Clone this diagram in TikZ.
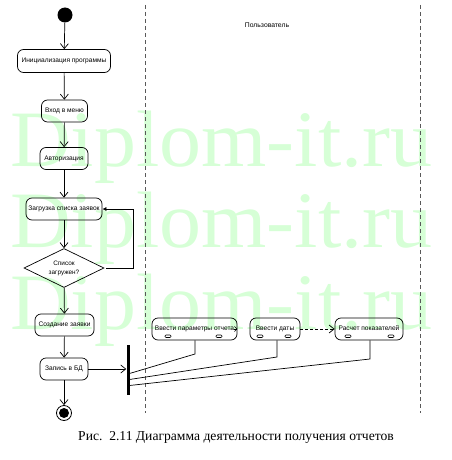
\documentclass[tikz,border=0pt]{standalone}
\usepackage{fontspec}
\setmainfont{Liberation Serif}
\newfontfamily\uifont{Liberation Sans}
\usetikzlibrary{arrows.meta,shapes.geometric,calc}
\definecolor{wmgreen}{RGB}{214,255,214}
\tikzset{
  act/.style={draw, rounded corners=6pt, line width=0.7pt, inner sep=0pt, font=\uifont\fontsize{6.6}{7}\selectfont, align=center},
  flow/.style={line width=0.7pt, -{Straight Barb[length=5pt,width=8pt,line width=0.7pt]}},
  plain/.style={line width=0.7pt},
  lane/.style={dashed, line width=0.6pt, dash pattern=on 4pt off 3pt, gray!70!black},
  pinbox/.style={draw, line width=0.6pt, rounded corners=1pt},
  wm/.style={anchor=base west, inner sep=0pt, text=wmgreen, font=\fontsize{80}{80}\selectfont, xscale=1.05}
}
\begin{document}
\begin{tikzpicture}[x=1pt,y=-1pt]
\useasboundingbox (0,0) rectangle (451,460);
% watermark
\node[wm] (wm1) at (10,166) {Diplom-it.ru};
\node[wm] (wm2) at (10,247) {Diplom-it.ru};
\node[wm] (wm3) at (10,329) {Diplom-it.ru};
% lanes
\draw[lane] (145,5) -- (145,413);
\draw[lane] (420,5) -- (420,413);
\node[font=\uifont\fontsize{6.8}{7}\selectfont] (lanetitle) at (267,25) {Пользователь};
% left column
\node[circle, fill, minimum size=15pt, inner sep=0pt] (start) at (65,15) {};
\node[act, minimum width=93pt, minimum height=23pt] (init) at (64,61) {Инициализация программы};
\node[act, minimum width=46pt, minimum height=22pt] (menu) at (64.5,111) {Вход в меню};
\node[act, minimum width=48pt, minimum height=22pt] (auth) at (64,158.5) {Авторизация};
\node[act, minimum width=76pt, minimum height=22pt] (load) at (64,209) {Загрузка списка заявок};
\node[draw, diamond, aspect=2.05, minimum width=80pt, minimum height=39pt, inner sep=0pt, line width=0.7pt, font=\uifont\fontsize{6.4}{9}\selectfont, align=center] (dec) at (64,268) {Список\\загружен?};
\node[act, minimum width=59pt, minimum height=22pt] (create) at (64.5,325) {Создание заявки};
\node[act, minimum width=48pt, minimum height=22pt] (write) at (64,369) {Запись в БД};
\node[circle, draw, line width=0.8pt, minimum size=15pt, inner sep=0pt] (end) at (64,413) {};
\node[circle, fill, minimum size=10pt, inner sep=0pt] (endin) at (64,413) {};
% fork bar
\node[fill, minimum width=3pt, minimum height=50pt, inner sep=0pt] (bar) at (128,370) {};
% right lane
\node[act, minimum width=85pt, minimum height=22pt] (n1) at (194.5,329) {\raisebox{1.5pt}{Ввести параметры отчета}};
\node[act, minimum width=50pt, minimum height=22pt] (n2) at (275,329) {\raisebox{1.5pt}{Ввести даты}};
\node[act, minimum width=68pt, minimum height=22pt] (n3) at (369,329) {\raisebox{1.5pt}{Расчет показателей}};
\foreach \px in {168,219,260,288,348,391}{
  \draw[pinbox] (\px-3,335) rectangle (\px+3,337.5);
}
% connectors
\draw[flow] (start) -- (init);
\draw[flow] (init) -- (menu);
\draw[flow] (menu) -- (auth);
\draw[flow] (auth) -- (load);
\draw[flow] (load) -- (dec);
\draw[flow] (dec) -- (create);
\draw[flow] (create) -- (write);
\draw[flow] (write) -- (end);
\coordinate (loopc) at (133,268);
\draw[line width=0.7pt, -{Latex[length=4pt,width=4pt]}] ([xshift=2pt]dec.east) -- (loopc) |- (load.east);
\draw[flow] (write.east) -- (write.east -| bar.west);
\coordinate (b1) at (129.5,373.5);
\coordinate (b2) at (129.5,379.5);
\coordinate (b3) at (129.5,385.5);
\coordinate (k1) at (195,354);
\coordinate (k2) at (277,357);
\coordinate (k3) at (370,359);
\draw[plain] (n1.south -| k1) -- (k1) -- (b1);
\draw[plain] (n2.south -| k2) -- (k2) -- (b2);
\draw[plain] (n3.south -| k3) -- (k3) -- (b3);
\draw[flow, dashed, dash pattern=on 3pt off 2pt] (n2.east) -- (n3.west);
\coordinate (tipstart) at (234,329);
\draw[line width=0.6pt, -{Straight Barb[length=2.5pt,width=5pt,line width=0.6pt]}] (tipstart) -- (n1.east);
% caption
\node[font=\fontsize{13.6}{15}\selectfont, inner sep=0pt] (caption) at (236,437) {Рис.\ \ 2.11 Диаграмма деятельности получения отчетов};
\end{tikzpicture}
\end{document}
